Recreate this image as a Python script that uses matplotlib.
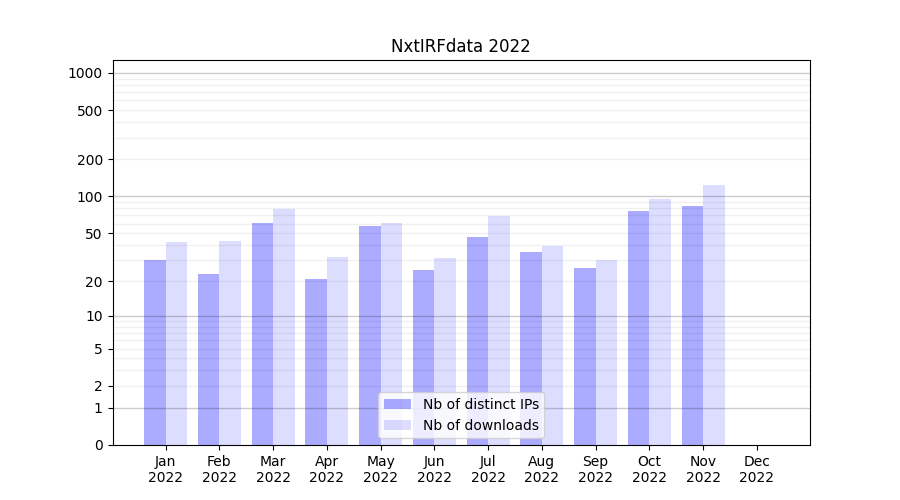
import numpy as np
import matplotlib
matplotlib.use("Agg")
import matplotlib.pyplot as plt

months = ['Jan', 'Feb', 'Mar', 'Apr', 'May', 'Jun', 'Jul', 'Aug', 'Sep', 'Oct', 'Nov', 'Dec']
year = '2022'
distinct_ips = [30, 23, 61, 21, 57, 25, 47, 35, 26, 76, 84, 0]
downloads = [42, 43, 79, 32, 61, 31, 69, 39, 30, 95, 124, 0]

ytick_vals = [0, 1, 2, 5, 10, 20, 50, 100, 200, 500, 1000]


def fwd(x):
    return np.log10(np.clip(x, 0, None) + 1)


def inv(y):
    return 10 ** y - 1


fig, ax = plt.subplots(figsize=(9, 5), dpi=100)

index = np.arange(len(months))
bar_width = 0.4

ax.bar(index - bar_width / 2, distinct_ips, bar_width, color='blue', alpha=0.33,
       label='Nb of distinct IPs')
ax.bar(index + bar_width / 2, downloads, bar_width, color='blue', alpha=0.135,
       label='Nb of downloads')

ax.set_yscale('function', functions=(fwd, inv))
ax.set_ylim(0, 1272)
ax.set_yticks(ytick_vals)
ax.set_yticklabels([str(v) for v in ytick_vals])

# grid drawn over the bars: decades darker, the rest lighter
for dec in [1, 10, 100]:
    for m in range(2, 10):
        ax.axhline(dec * m, color='k', alpha=0.06, lw=1, zorder=3)
for v in [1, 10, 100, 1000]:
    ax.axhline(v, color='k', alpha=0.2, lw=1, zorder=3)

ax.set_xticks(index)
ax.set_xticklabels([m + '\n' + year for m in months])
ax.set_title('NxtIRFdata ' + year)
ax.legend(loc='lower center')

fig.savefig('out.png')
